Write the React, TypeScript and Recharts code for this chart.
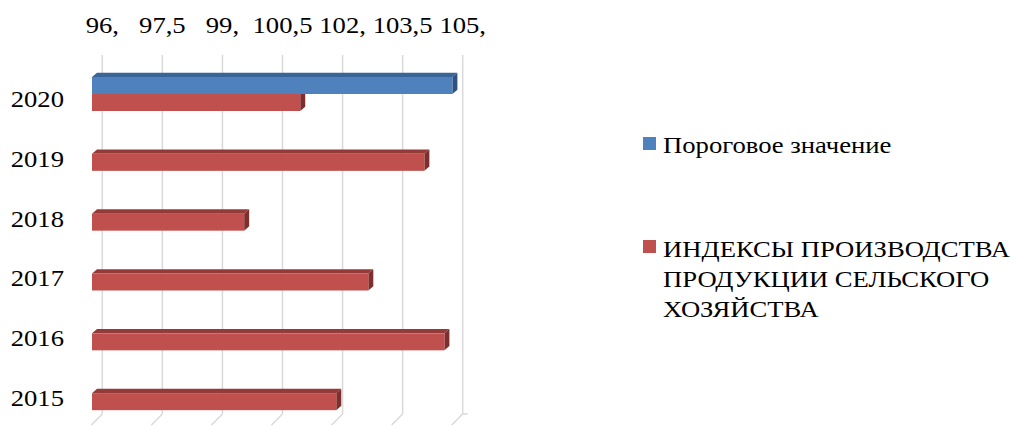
import React from 'react';
import { BarChart, Bar, XAxis, YAxis, CartesianGrid } from 'recharts';

const years = ['2020', '2019', '2018', '2017', '2016', '2015'];
const indexValues = [101.2, 104.3, 99.8, 102.9, 104.8, 102.1];
const thresholdValues: (number | null)[] = [105, null, null, null, null, null];
const tickValues = [96, 97.5, 99, 100.5, 102, 103.5, 105];
const tickLabels = ['96,', '97,5', '99,', '100,5', '102,', '103,5', '105,'];
const seriesNames = ['Пороговое значение', 'ИНДЕКСЫ ПРОИЗВОДСТВА ПРОДУКЦИИ СЕЛЬСКОГО ХОЗЯЙСТВА'];
const legendLines = [['Пороговое значение'], ['ИНДЕКСЫ ПРОИЗВОДСТВА', 'ПРОДУКЦИИ СЕЛЬСКОГО', 'ХОЗЯЙСТВА']];
const seriesColors = ['#4f81bd', '#c0504d'];

const data = years.map((year, i) => ({
  year,
  threshold: thresholdValues[i],
  index: indexValues[i],
}));

const FONT = 'Liberation Serif';
const FONT_SIZE = 24;
const STRETCH = 1.11;
// offset of the bars' front face from the back wall, and the bar depth
const DX = -10.3;
const DY = 9;
const DEPTH_X = 5;
const DEPTH_Y = 4.3;

const Bar3D = (props: any) => {
  const { x, y, width, height, fill, top, side, payload, hideTop } = props;
  if (!width || width <= 0) return null;
  const fx = x + DX;
  const fy = y + DY;
  const covered = hideTop && payload && payload.threshold != null;
  const sidePath = covered
    ? `M${fx + width},${fy} L${fx + width + DEPTH_X},${fy} L${fx + width + DEPTH_X},${fy + height - DEPTH_Y} L${fx + width},${fy + height} Z`
    : `M${fx + width},${fy} L${fx + width + DEPTH_X},${fy - DEPTH_Y} L${fx + width + DEPTH_X},${fy + height - DEPTH_Y} L${fx + width},${fy + height} Z`;
  return (
    <g>
      {!covered && (
        <path
          d={`M${fx},${fy} L${fx + DEPTH_X},${fy - DEPTH_Y} L${fx + width + DEPTH_X},${fy - DEPTH_Y} L${fx + width},${fy} Z`}
          fill={top}
        />
      )}
      <path d={sidePath} fill={side} />
      <rect x={fx} y={fy} width={width} height={height} fill={fill} />
    </g>
  );
};

const XTick = (props: any) => {
  const { x, index } = props;
  return (
    <text
      transform={`translate(${x},33) scale(${STRETCH},1)`}
      textAnchor="middle"
      style={{ fontFamily: FONT, fontSize: FONT_SIZE }}
      fill="#000"
    >
      {tickLabels[index]}
    </text>
  );
};

const YTick = (props: any) => {
  const { y, payload } = props;
  return (
    <text
      transform={`translate(64,${y + 22}) scale(${STRETCH},1)`}
      textAnchor="end"
      style={{ fontFamily: FONT, fontSize: FONT_SIZE }}
      fill="#000"
    >
      {payload.value}
    </text>
  );
};

const GridLine = (props: any) => {
  const { x1, y1, y2, index } = props;
  const last = index === tickValues.length - 1;
  return (
    <g stroke="#d9d9d9" strokeWidth={1.5} fill="none">
      <line x1={x1} x2={x1} y1={y1} y2={y2} />
      <line x1={x1} x2={x1 - 11} y1={y2} y2={y2 + 11} />
      {last && <line x1={x1} x2={x1 + 5} y1={y2} y2={y2} />}
    </g>
  );
};

const ChartLegend = () => (
  <div style={{ position: 'absolute', left: 643, top: 130 }}>
    {seriesNames.map((name, i) => (
      <div
        key={name}
        style={{ position: 'absolute', left: 0, top: i === 0 ? 0 : 103.5, display: 'flex', alignItems: 'flex-start' }}
      >
        <div style={{ width: 13, height: 13, background: seriesColors[i], marginTop: i === 0 ? 7 : 6.5, marginRight: 7, flexShrink: 0 }} />
        <div
          style={{
            fontFamily: FONT,
            fontSize: FONT_SIZE,
            lineHeight: '30px',
            color: '#000',
            whiteSpace: 'nowrap',
            transform: `scaleX(${STRETCH})`,
            transformOrigin: 'left top',
          }}
        >
          {legendLines[i].map((line) => (
            <div key={line}>{line}</div>
          ))}
        </div>
      </div>
    ))}
  </div>
);

export default function App() {
  return (
    <div style={{ position: 'absolute', left: 0, top: 0, width: 1015, height: 426, background: '#fff', overflow: 'hidden' }}>
      <BarChart
        width={1015}
        height={426}
        data={data}
        layout="vertical"
        margin={{ top: 0, left: 0, right: 552.3, bottom: 12 }}
        barSize={17}
        barGap={0}
      >
        <CartesianGrid horizontal={false} vertical={GridLine} />
        <XAxis
          type="number"
          orientation="top"
          domain={[96, 105]}
          ticks={tickValues}
          height={55}
          axisLine={false}
          tickLine={false}
          tick={XTick}
          interval={0}
        />
        <YAxis
          type="category"
          dataKey="year"
          width={102.3}
          axisLine={false}
          tickLine={false}
          tick={YTick}
          interval={0}
        />
        <Bar
          dataKey="threshold"
          name={seriesNames[0]}
          fill={seriesColors[0]}
          isAnimationActive={false}
          shape={(p: any) => <Bar3D {...p} fill={seriesColors[0]} top="#3b6499" side="#2e5282" />}
        />
        <Bar
          dataKey="index"
          name={seriesNames[1]}
          fill={seriesColors[1]}
          isAnimationActive={false}
          shape={(p: any) => <Bar3D {...p} fill={seriesColors[1]} top="#943b39" side="#7d2f2d" hideTop />}
        />
      </BarChart>
      <ChartLegend />
    </div>
  );
}
